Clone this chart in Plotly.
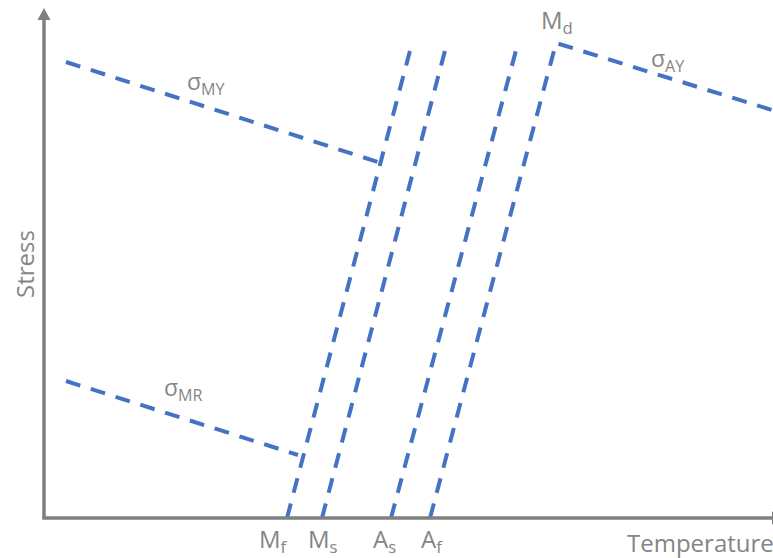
import plotly.graph_objects as go

# Schematic stress-temperature diagram for a shape-memory alloy.
# Temperatures and stresses are in arbitrary schematic units.

# Transformation temperatures at zero stress
transform_names = ["M<sub>f</sub>", "M<sub>s</sub>", "A<sub>s</sub>", "A<sub>f</sub>"]
transform_temps = [243, 278, 347, 386]
# Temperatures of the transformation lines at the top stress level
transform_temps_top = [368, 403, 474, 512]
stress_top = 475

# Martensite yield stress line (sigma_MY)
my_temps = [22, 334]
my_stress = [456, 356]

# Martensite reorientation stress line (sigma_MR)
mr_temps = [22, 254]
mr_stress = [137, 63]

# Austenite yield stress line (sigma_AY), starting from M_d
ay_temps = [512, 728]
ay_stress = [475, 408]

BLUE = "#4472C4"
GREY = "#808080"
TEXT = "#858585"
FONT = "Open Sans"
DASH = "15px,11px"
LW = 4

fig = go.Figure()

def dashed(xs, ys):
    fig.add_trace(go.Scatter(
        x=xs, y=ys, mode="lines",
        line=dict(color=BLUE, width=LW, dash=DASH),
        hoverinfo="skip", showlegend=False,
    ))

# M_f, M_s, A_s transformation lines
for t0, t1 in zip(transform_temps[:3], transform_temps_top[:3]):
    dashed([t0, t1], [0, stress_top])

# A_f line rising to M_d, then the austenite yield line
dashed([transform_temps[3], transform_temps_top[3]] + ay_temps[1:],
       [0, stress_top] + ay_stress[1:])

dashed(my_temps, my_stress)
dashed(mr_temps, mr_stress)

# Axes with arrowheads
shapes = [
    dict(type="line", xref="x", yref="y", x0=0, y0=0, x1=0, y1=500,
         line=dict(color=GREY, width=3.5)),
    dict(type="line", xref="x", yref="y", x0=-1.75, y0=0, x1=730, y1=0,
         line=dict(color=GREY, width=3.5)),
    dict(type="path", xref="x", yref="y",
         path="M -6.5 498 L 6.5 498 L 0 510 Z",
         fillcolor=GREY, line=dict(width=0)),
    dict(type="path", xref="x", yref="y",
         path="M 728 -6.5 L 728 6.5 L 740 0 Z",
         fillcolor=GREY, line=dict(width=0)),
]

annotations = []

def label(text, x, y, size=24, angle=0, xshift=0):
    annotations.append(dict(
        text=text, x=x, y=y, xref="x", yref="y", showarrow=False,
        textangle=angle, xshift=xshift,
        font=dict(family=FONT, size=size, color=TEXT),
        xanchor="center", yanchor="middle",
    ))

label("Stress", -20, 254, angle=-90)
label("Temperature", 656, -24)

for name, t, dx in zip(transform_names, transform_temps, [-14, 1, -7, 2]):
    label(name, t, -22, xshift=dx)

label("M<sub>d</sub>", 513, 497)
label("σ<sub>MY</sub>", 162, 436, size=23)
label("σ<sub>MR</sub>", 139, 130, size=23)
label("σ<sub>AY</sub>", 623, 459, size=23)

fig.update_layout(
    width=773, height=558,
    margin=dict(l=0, r=0, t=0, b=0),
    paper_bgcolor="white", plot_bgcolor="white",
    xaxis=dict(range=[-44, 729], visible=False, fixedrange=True),
    yaxis=dict(range=[-40, 518], visible=False, fixedrange=True),
    shapes=shapes,
    annotations=annotations,
    showlegend=False,
)

fig.write_html("out.html")
